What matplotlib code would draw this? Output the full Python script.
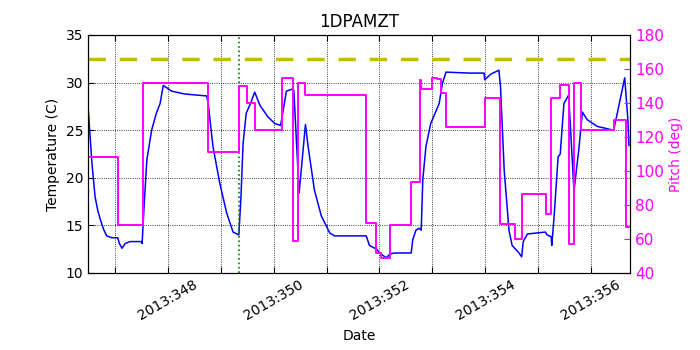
import matplotlib
matplotlib.use('Agg')
import matplotlib.pyplot as plt

# temperature (1DPAMZT), day of year 2013 -> deg C
temp_days = [346.49, 346.53, 346.56, 346.62, 346.67, 346.72, 346.78, 346.84, 346.94, 347.05,
             347.08, 347.13, 347.19, 347.28, 347.50, 347.51, 347.55, 347.60, 347.69, 347.78,
             347.85, 347.91, 348.07, 348.32, 348.73, 348.76, 348.85, 348.98, 349.11, 349.23,
             349.34, 349.38, 349.42, 349.48, 349.56, 349.64, 349.74, 349.89, 350.02, 350.13,
             350.24, 350.34, 350.38, 350.48, 350.60, 350.65, 350.77, 350.90, 351.06, 351.15,
             351.75, 351.81, 351.91, 351.95, 352.00, 352.13, 352.20, 352.28, 352.60, 352.63,
             352.69, 352.75, 352.79, 352.82, 352.88, 352.97, 353.13, 353.19, 353.26, 353.70,
             353.98, 353.99, 354.11, 354.26, 354.29, 354.36, 354.45, 354.51, 354.64, 354.69,
             354.72, 354.80, 355.14, 355.17, 355.25, 355.26, 355.30, 355.38, 355.42, 355.49,
             355.58, 355.68, 355.77, 355.84, 355.93, 356.12, 356.43, 356.50, 356.64, 356.70,
             356.72]
temp_vals = [27.3, 24.0, 21.6, 18.0, 16.6, 15.6, 14.6, 13.9, 13.7, 13.7,
             13.1, 12.6, 13.1, 13.3, 13.3, 13.1, 17.3, 21.9, 25.0, 26.8,
             27.8, 29.7, 29.1, 28.8, 28.6, 27.8, 23.3, 19.4, 16.3, 14.3,
             14.0, 18.0, 23.6, 26.8, 27.8, 29.0, 27.6, 26.4, 25.7, 25.5,
             29.1, 29.3, 29.2, 18.4, 25.6, 23.3, 18.7, 16.0, 14.2, 13.9,
             13.9, 12.9, 12.6, 12.5, 12.1, 11.6, 12.0, 12.1, 12.1, 13.5,
             14.5, 14.7, 14.5, 19.8, 23.3, 25.7, 27.8, 29.9, 31.1, 31.0,
             31.0, 30.3, 30.9, 31.3, 29.6, 20.8, 14.5, 12.9, 12.1, 11.7,
             13.3, 14.1, 14.3, 14.0, 13.8, 12.9, 15.6, 22.2, 22.5, 27.8,
             28.7, 18.6, 22.9, 26.9, 26.1, 25.4, 25.0, 26.8, 30.5, 26.1,
             23.4]

# pitch step changes (day, deg)
pitch_days = [346.49, 347.06, 347.53, 348.75, 349.34, 349.49, 349.64, 350.16, 350.37, 350.45,
              350.59, 351.75, 351.94, 352.02, 352.20, 352.60, 352.76, 352.79, 352.99, 353.09,
              353.17, 353.26, 353.99, 354.28, 354.57, 354.69, 355.15, 355.24, 355.41, 355.58,
              355.68, 355.82, 356.44, 356.66, 356.72]
pitch_vals = [108, 68, 152, 111, 150, 140, 124, 155, 59, 152,
              145, 69.5, 52, 49, 68, 93.5, 153.5, 148, 155, 154,
              146, 126, 143, 69, 60, 86.5, 75, 143, 150.5, 57,
              152, 124, 130, 67, 67]

planning_limit = 32.5
caution_limit = 35.0
now_day = 349.35

major_days = list(range(347, 357))
major_labels = ['2013:%d' % d if d % 2 == 0 else '' for d in major_days]

plt.rcParams['font.family'] = 'DejaVu Sans'
plt.rcParams['font.size'] = 10
plt.rcParams['xtick.direction'] = 'in'
plt.rcParams['ytick.direction'] = 'in'

fig = plt.figure(figsize=(7, 3.5), dpi=100)
ax = fig.add_subplot(111)
fig.subplots_adjust(left=0.126, right=0.9, top=0.9, bottom=0.22)

ax.plot(temp_days, temp_vals, color='#0000ff', lw=1.1)
ax.axhline(planning_limit, color='y', ls='--', lw=2.5, dashes=(5, 4))
ax.axhline(caution_limit, color='y', lw=1.5)
ax.axvline(now_day, color='g', ls=':', lw=1.2)

ax.set_xlim(346.49, 356.74)
ax.set_ylim(10, 35)
ax.set_xticks(major_days)
ax.set_xticklabels(major_labels, rotation=30)
ax.set_yticks([10, 15, 20, 25, 30, 35])
ax.grid(True, color='k', ls=':', lw=0.6)
ax.set_xlabel('Date')
ax.set_ylabel('Temperature (C)')
ax.set_title('1DPAMZT', fontsize=12)
ax.tick_params(top=True, length=4)

ax2 = ax.twinx()
ax2.step(pitch_days, pitch_vals, where='post', color='#ff00ff', lw=1.4)
ax2.set_xlim(346.49, 356.74)
ax2.set_ylim(40, 180)
ax2.set_yticks(range(40, 181, 20))
ax2.tick_params(axis='y', colors='#ff00ff', length=4, labelsize=11)
ax2.set_ylabel('Pitch (deg)', color='#ff00ff')

fig.savefig('out.png', dpi=100, facecolor='white')
